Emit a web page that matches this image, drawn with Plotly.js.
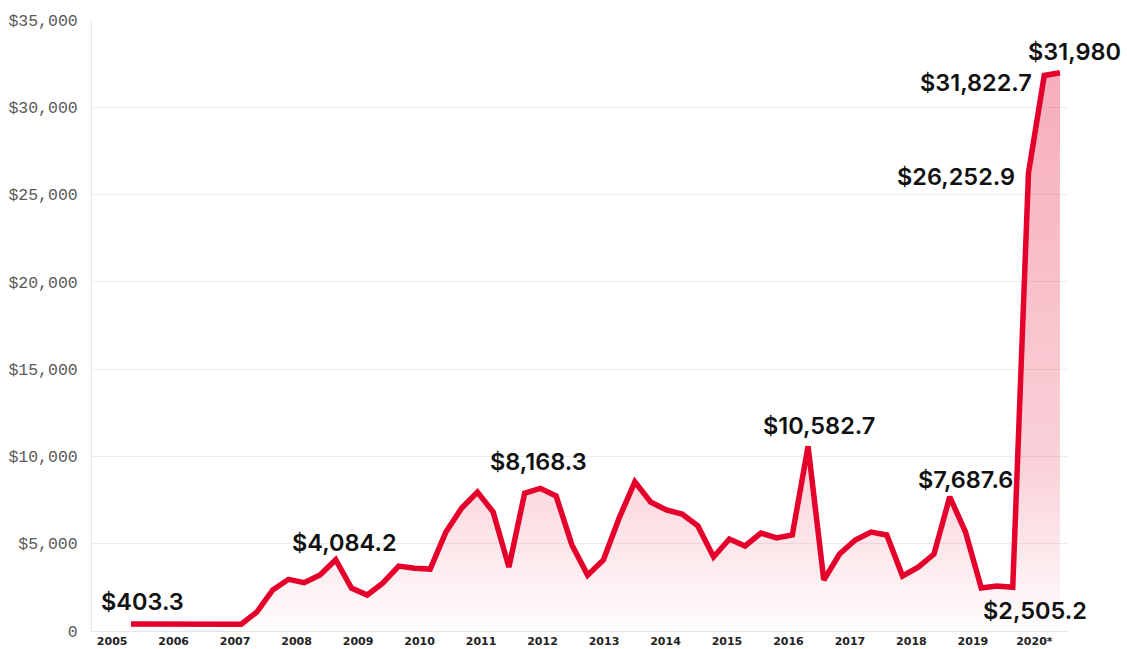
<!DOCTYPE html>
<html>
<head>
<meta charset="utf-8">
<script src="https://cdn.plot.ly/plotly-3.0.1.min.js"></script>
<style>
  html, body { margin: 0; padding: 0; background: #ffffff; }
  #chart { width: 1127px; height: 649px; }
</style>
</head>
<body>
<div id="chart"></div>
<script>
// Quarterly periods (2005 Q2 – 2020 Q1)
const quarters = [
  "2005 Q2","2005 Q3","2005 Q4",
  "2006 Q1","2006 Q2","2006 Q3","2006 Q4",
  "2007 Q1","2007 Q2","2007 Q3","2007 Q4",
  "2008 Q1","2008 Q2","2008 Q3","2008 Q4",
  "2009 Q1","2009 Q2","2009 Q3","2009 Q4",
  "2010 Q1","2010 Q2","2010 Q3","2010 Q4",
  "2011 Q1","2011 Q2","2011 Q3","2011 Q4",
  "2012 Q1","2012 Q2","2012 Q3","2012 Q4",
  "2013 Q1","2013 Q2","2013 Q3","2013 Q4",
  "2014 Q1","2014 Q2","2014 Q3","2014 Q4",
  "2015 Q1","2015 Q2","2015 Q3","2015 Q4",
  "2016 Q1","2016 Q2","2016 Q3","2016 Q4",
  "2017 Q1","2017 Q2","2017 Q3","2017 Q4",
  "2018 Q1","2018 Q2","2018 Q3","2018 Q4",
  "2019 Q1","2019 Q2","2019 Q3","2019 Q4",
  "2020 Q1"
];

// Values (in $)
const values = [
  403.3, 395, 390, 400, 405, 400, 392, 388,
  1100, 2350, 2960, 2770, 3210, 4084.2,
  2460, 2060, 2750, 3720, 3600, 3550,
  5670, 7040, 7960, 6820, 3660, 7900, 8168.3, 7730,
  4930, 3200, 4070, 6470, 8540, 7390, 6930, 6700,
  6020, 4240, 5270, 4870, 5610, 5330, 5500, 10582.7,
  2920, 4410, 5210, 5670, 5500, 3150, 3660, 4410,
  7687.6, 5670, 2460, 2580, 2505.2, 26252.9, 31822.7, 31980
];

// Year tick labels along the bottom
const yearLabels = ["2005","2006","2007","2008","2009","2010","2011","2012",
                    "2013","2014","2015","2016","2017","2018","2019","2020*"];

// Y-axis tick values and labels
const yTickVals = [0, 5000, 10000, 15000, 20000, 25000, 30000, 35000];
const yTickText = ["0", "$5,000", "$10,000", "$15,000", "$20,000", "$25,000", "$30,000", "$35,000"];

// Which points are labelled
const labelledIdx = [0, 13, 26, 43, 52, 56, 57, 58, 59];

// Label placement (style only)
const labelPlacement = {
  0:  {xanchor: "left",   xshift: -32, yshift: 22},
  13: {xanchor: "center", xshift: 9,   yshift: 17},
  26: {xanchor: "center", xshift: -2,  yshift: 27},
  43: {xanchor: "center", xshift: 11,  yshift: 21},
  52: {xanchor: "center", xshift: 16,  yshift: 17},
  56: {xanchor: "center", xshift: 22,  yshift: -23},
  57: {xanchor: "right",  xshift: -11, yshift: -4},
  58: {xanchor: "right",  xshift: -10, yshift: -7},
  59: {xanchor: "center", xshift: 15,  yshift: 21}
};

const xIdx = quarters.map((q, i) => i);

function fmt(v) {
  return "$" + v.toLocaleString("en-US", {maximumFractionDigits: 1});
}

const red = "#e4002b";

const trace = {
  type: "scatter",
  mode: "lines",
  x: xIdx,
  y: values,
  text: quarters,
  hovertemplate: "%{text}: $%{y:,.1f}<extra></extra>",
  line: {color: red, width: 5.5, shape: "linear"},
  fill: "tozeroy",
  fillgradient: {
    type: "vertical",
    colorscale: [
      [0, "rgba(228,0,43,0.01)"],
      [0.3, "rgba(228,0,43,0.18)"],
      [1, "rgba(228,0,43,0.32)"]
    ]
  }
};

const annotations = labelledIdx.map(i => {
  const p = labelPlacement[i];
  return {
    x: xIdx[i], y: values[i], xref: "x", yref: "y",
    text: fmt(values[i]),
    showarrow: false,
    xanchor: p.xanchor, yanchor: "middle",
    xshift: p.xshift, yshift: p.yshift,
    font: {family: "Inter, 'Noto Sans', sans-serif", size: 23.5, color: "#111111", weight: 600}
  };
});

// year ticks: evenly spread across the axis
const yearStart = -1.2, yearStep = 3.905;
const yearTickVals = yearLabels.map((_, i) => yearStart + i * yearStep);

const layout = {
  width: 1127, height: 649,
  margin: {l: 92, r: 59, t: 20, b: 18, pad: 0},
  paper_bgcolor: "#ffffff",
  plot_bgcolor: "#ffffff",
  showlegend: false,
  xaxis: {
    type: "linear",
    range: [-2.48, 59.51],
    showgrid: false,
    zeroline: false,
    showline: true,
    linecolor: "#e6e6e6",
    linewidth: 1,
    tickmode: "array",
    tickvals: yearTickVals,
    ticktext: yearLabels,
    ticks: "",
    ticklabelstandoff: 0,
    tickfont: {family: "'DejaVu Sans', sans-serif", size: 11, color: "#222222", weight: 700},
    automargin: false,
    fixedrange: true
  },
  yaxis: {
    range: [0, 35000],
    tickmode: "array",
    tickvals: yTickVals,
    ticktext: yTickText,
    showgrid: true,
    gridcolor: "#ececec",
    gridwidth: 1,
    zeroline: false,
    showline: true,
    linecolor: "#e6e6e6",
    linewidth: 1,
    ticks: "",
    ticklabelstandoff: 10,
    tickfont: {family: "'Liberation Mono', monospace", size: 16.5, color: "#5a5a5a"},
    automargin: false,
    fixedrange: true
  },
  annotations: annotations
};

Plotly.newPlot("chart", [trace], layout, {displayModeBar: false, staticPlot: true});
</script>
</body>
</html>
